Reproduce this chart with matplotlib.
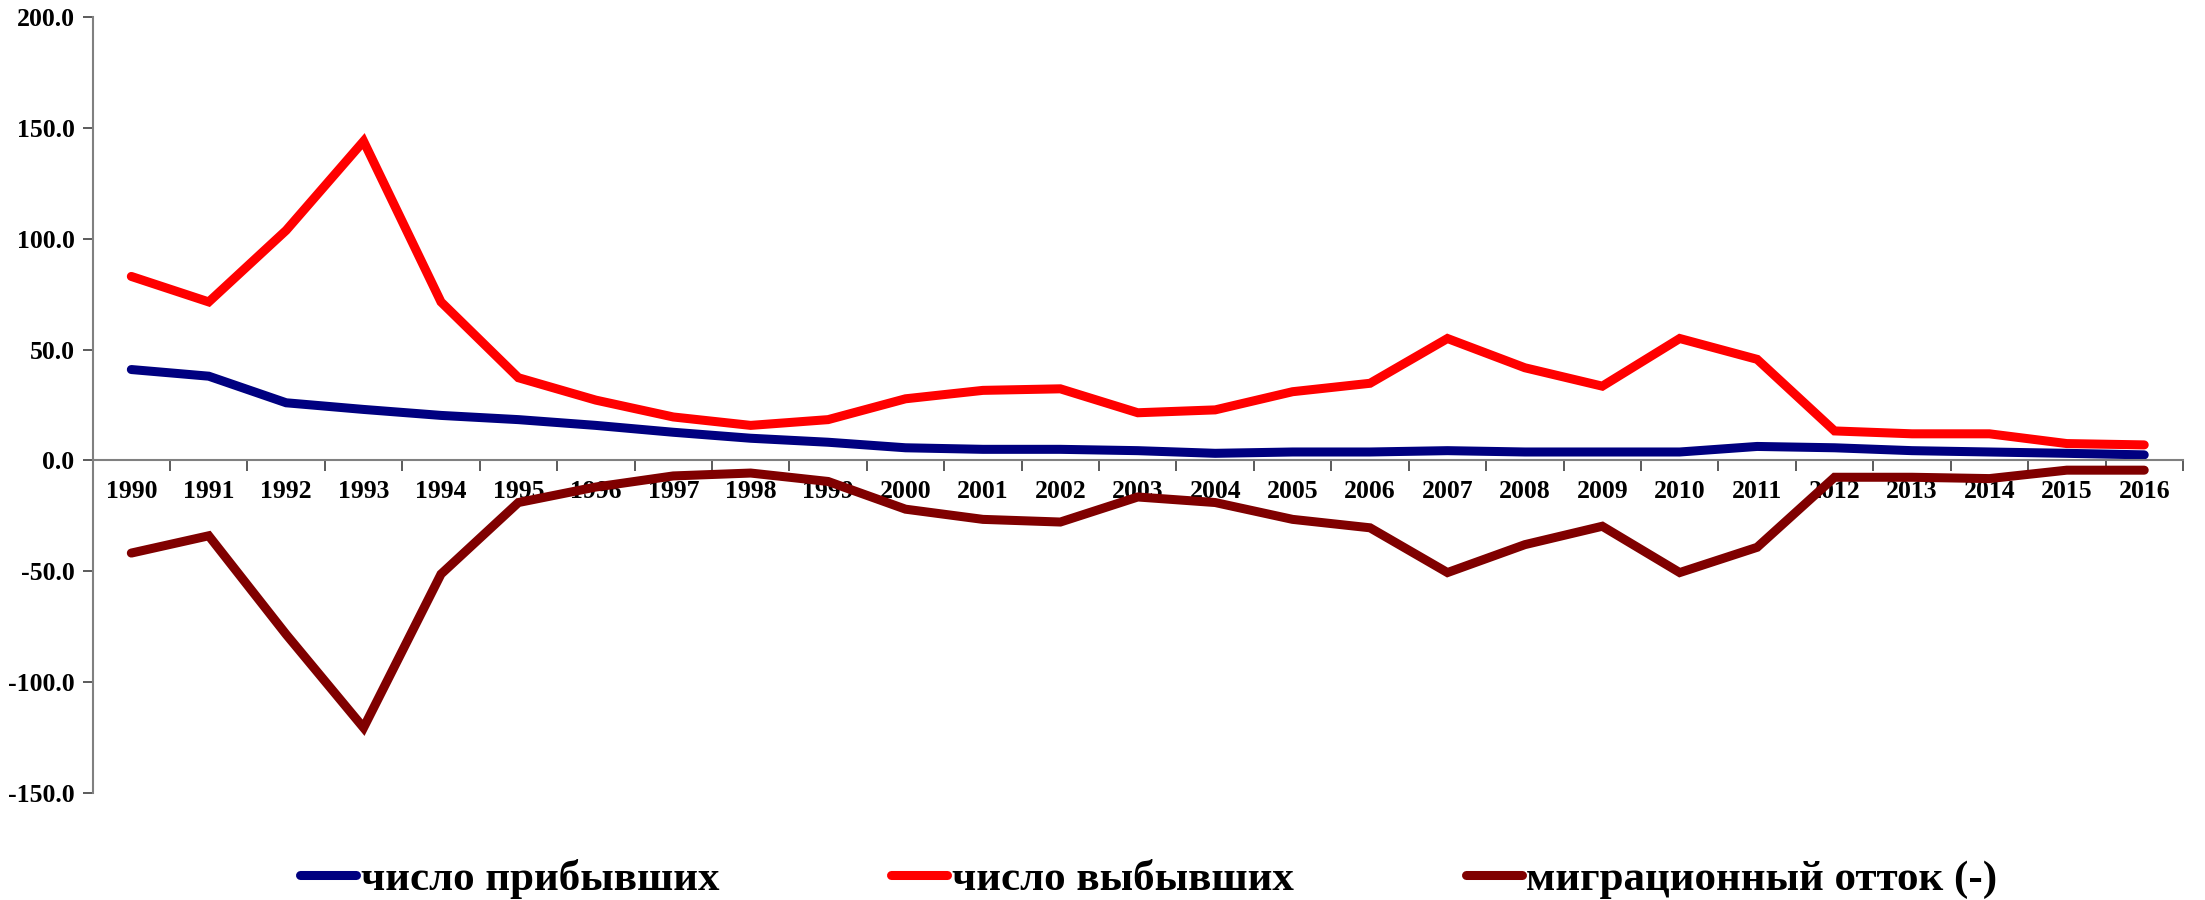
import matplotlib
matplotlib.use("Agg")
import matplotlib.pyplot as plt
from matplotlib.ticker import FixedLocator, FormatStrFormatter

plt.rcParams['font.family'] = ['Liberation Serif', 'DejaVu Serif']
plt.rcParams['font.weight'] = 'bold'

years = [str(y) for y in range(1990, 2017)]

# thousand people
arrived = [41, 38, 26, 23, 20.3, 18.4, 15.8, 12.7, 10, 8.2, 5.7, 5, 5, 4.4, 3.2,
           3.8, 3.8, 4.4, 3.8, 3.8, 3.8, 6.3, 5.7, 4.4, 3.8, 3.2, 2.5]
departed = [83, 71.5, 103.8, 144, 71.5, 37.3, 27.2, 19.6, 15.8, 18.4, 27.8, 31.6,
            32.3, 21.5, 22.8, 31, 34.8, 55, 41.8, 33.5, 55, 45.6, 13.3, 12, 12,
            7.6, 7]
outflow = [-41.8, -34, -78.5, -120.6, -51.3, -19, -12, -7, -5.7, -9.5, -22, -26.6,
           -27.8, -16.5, -19, -26.6, -30.4, -50.6, -38, -29.7, -50.6, -39.2, -7.6,
           -7.6, -8.2, -4.4, -4.4]

labels = ['число прибывших', 'число выбывших', 'миграционный отток (-)']
colors = ['#000080', '#FF0000', '#800000']

fig = plt.figure(figsize=(22.05, 9), dpi=100)
ax = fig.add_axes([0.042, 0.119, 0.948, 0.862])

x = list(range(len(years)))
for series, label, color in zip([arrived, departed, outflow], labels, colors):
    ax.plot(x, series, color=color, linewidth=6.5, label=label,
            solid_capstyle='round', solid_joinstyle='miter')

ax.set_xlim(-0.5, len(years) - 0.5)
ax.set_ylim(-150, 200)
ax.set_yticks([-150, -100, -50, 0, 50, 100, 150, 200])
ax.yaxis.set_major_formatter(FormatStrFormatter('%.1f'))

# x axis sits on the zero line
ax.spines['top'].set_visible(False)
ax.spines['right'].set_visible(False)
ax.spines['bottom'].set_position(('data', 0))
ax.spines['bottom'].set_color('#808080')
ax.spines['bottom'].set_linewidth(1.5)
ax.spines['left'].set_color('#808080')
ax.spines['left'].set_linewidth(1.5)

ax.set_xticks(x)
ax.set_xticklabels(years)
ax.xaxis.set_minor_locator(FixedLocator([i - 0.5 for i in range(len(years) + 1)]))
ax.tick_params(axis='x', which='major', length=0, pad=14, labelsize=18.5)
ax.tick_params(axis='x', which='minor', length=8, width=1.2, color='#404040',
               direction='out')
ax.tick_params(axis='y', length=7, width=1.2, color='#404040', labelsize=18.5, pad=6)

for lbl in ax.get_xticklabels() + ax.get_yticklabels():
    lbl.set_fontweight('bold')

leg = fig.legend(loc='center', bbox_to_anchor=(0.521, 0.023), ncol=3, frameon=False,
                 fontsize=31, handlelength=1.3, handletextpad=0.1,
                 columnspacing=4.0)
for txt in leg.get_texts():
    txt.set_fontweight('bold')

fig.savefig('out.png', dpi=100)
